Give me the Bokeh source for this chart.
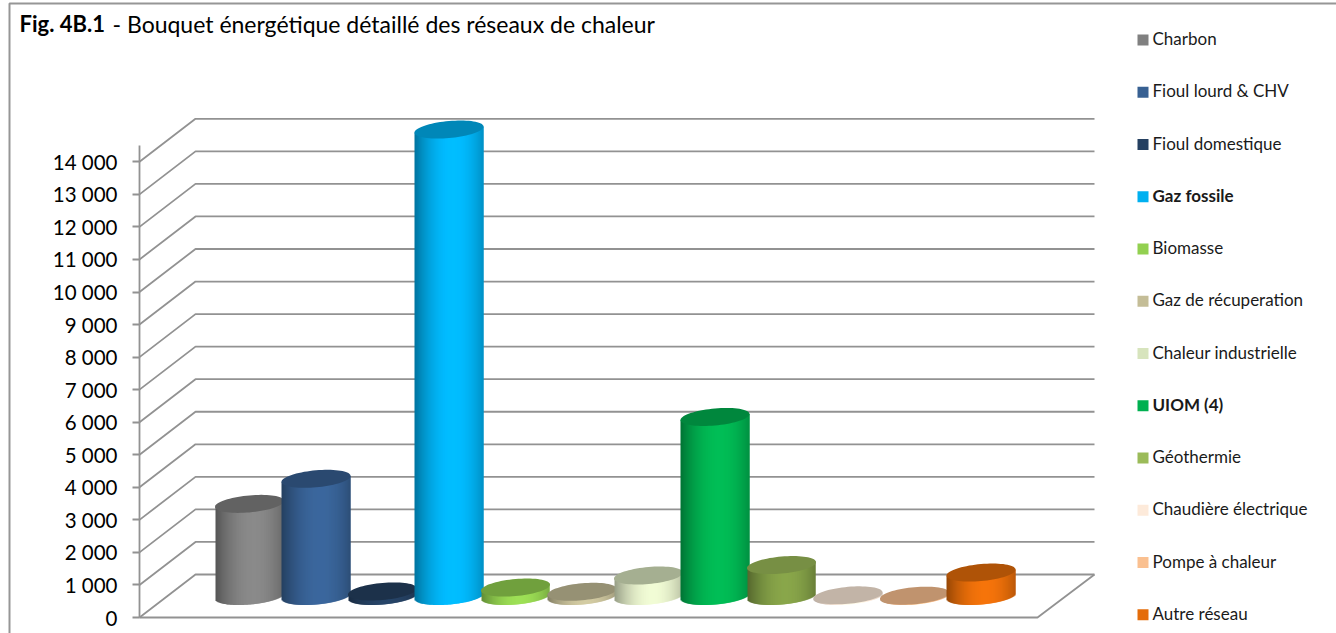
from bokeh.plotting import figure
from bokeh.models import LinearAxis, FixedTicker, Range1d
from bokeh.core.properties import value
from bokeh.embed import file_html
from bokeh.resources import INLINE
import math

categories = ["Charbon", "Fioul lourd & CHV", "Fioul domestique", "Gaz fossile", "Biomasse",
              "Gaz de récuperation", "Chaleur industrielle", "UIOM (4)", "Géothermie",
              "Chaudière électrique", "Pompe à chaleur", "Autre réseau"]
values = [2830, 3600, 140, 14330, 260, 130, 630, 5500, 950, 20, 10, 720]
colors = ["#808080", "#376092", "#254061", "#00B0F0", "#92D050", "#C4BD97",
          "#D7E4BD", "#00B050", "#9BBB59", "#FDEADA", "#FAC090", "#E46C0A"]
body_colors = ["#808080", "#376092", "#254061", "#00B0F0", "#92D050", "#C4BD97",
               "#E0EAC6", "#00B050", "#7F9A45", "#FDEADA", "#FAC090", "#E46C0A"]
bold = {"Gaz fossile", "UIOM (4)"}
ticks = list(range(0, 15000, 1000))
tick_labels = {t: f"{t:,}".replace(",", " ") for t in ticks}

FONT = "Lato"
W, H = 1336, 633
Y0, PX = 617.0, 32.55 / 1000       # screen y of value 0, px per unit
def v_of(py):                      # screen row -> value units
    return (Y0 - py) / PX
def d(px):                         # pixel length -> value units
    return px / PX

def scale(c, f):
    r, g, b = int(c[1:3], 16), int(c[3:5], 16), int(c[5:7], 16)
    return "#%02x%02x%02x" % tuple(min(255, int(x * f)) for x in (r, g, b))

p = figure(width=W, height=H, x_range=Range1d(0, W), y_range=Range1d(v_of(H), v_of(0)),
           x_axis_location=None, y_axis_location=None, toolbar_location=None,
           output_backend="svg", min_border=0, outline_line_color=None, tools="")
p.grid.visible = False
p.styles = {"position": "absolute", "left": "0px", "top": "0px"}

# outer frame of the chart box
FR = "#969696"
p.line([9, 9, W], [v_of(H), v_of(3), v_of(3)], line_color=FR, line_width=2)

# walls and floor
AX, BX, RX, FRX = 139, 195, 1094, 1037
LIFT = d(43)
GR = "#929292"
LW = 1.8
for t in ticks:
    p.line([AX, BX, RX], [t, t + LIFT, t + LIFT], line_color=GR, line_width=LW)
p.line([AX, FRX, RX], [0, 0, LIFT], line_color=GR, line_width=LW)

ax = LinearAxis(fixed_location=AX, bounds=(0, 14500), ticker=FixedTicker(ticks=ticks),
                major_label_overrides=tick_labels, axis_line_color=GR, axis_line_width=LW,
                major_tick_line_color=GR, major_tick_line_width=LW, major_tick_out=7, major_tick_in=0,
                minor_tick_line_color=None, major_label_standoff=15,
                major_label_text_font=FONT, major_label_text_font_size="20.5px",
                major_label_text_color="#000000")
p.add_layout(ax, "left")

# cylinders
CX0, PITCH, A, B, K, BASE_ROW = 249.0, 66.5, 34.5, 8.5, 3.0, 595.5
base_v = v_of(BASE_ROW)
for i, (val, col) in enumerate(zip(values, body_colors)):
    cx = CX0 + PITCH * i
    top_v = base_v + val
    lefts, rights, tops, bots, cols = [], [], [], [], []
    first, last = math.ceil(cx - A), math.floor(cx + A)
    for px in range(first, last):
        c = (px + 0.5 - cx) / A
        s = math.sqrt(max(0.0, 1 - c * c))
        lefts.append(px)
        rights.append(px + 2 if px < last - 1 else px + 1)
        bots.append(base_v + d(K * c - B * s))
        tops.append(top_v + d(K * c))
        t = c - 0.12
        cols.append(scale(col, 0.66 + 0.42 * max(0.0, 1 - (abs(t) / 1.12) ** 2.0)))
    p.quad(left=lefts, right=rights, top=tops, bottom=bots, fill_color=cols, line_color=None)
    ts = [2 * math.pi * q / 72 for q in range(72)]
    p.patch([cx + A * math.cos(q) for q in ts],
            [top_v + d(K * math.cos(q) + B * math.sin(q)) for q in ts],
            fill_color=scale(colors[i], 0.77), line_color=None)

# title
TITLE_ROW = 23.0
p.text([19], [v_of(TITLE_ROW)], text=["Fig. 4B.1"], text_font=value(FONT), text_font_style="bold",
       text_font_size="22px", text_color="#000000", text_baseline="alphabetic")
p.text([112], [v_of(TITLE_ROW)], text=["- Bouquet énergétique détaillé des réseaux de chaleur"],
       text_font=value(FONT), text_font_size="23px", text_color="#000000", text_baseline="alphabetic")

# legend
LEG_Y0, LEG_STEP = 39.5, 52.25
for i, (name, col) in enumerate(zip(categories, colors)):
    row = LEG_Y0 + LEG_STEP * i
    p.rect([1142.5], [v_of(row)], width=11, height=d(11), fill_color=col, line_color=None)
    p.text([1152], [v_of(row - 1.5)], text=[name], text_font=value(FONT),
           text_font_style="bold" if name in bold else "normal", text_font_size="17px",
           text_color="#1a1a1a", text_baseline="middle")

open("out.html", "w").write(file_html(p, INLINE))
